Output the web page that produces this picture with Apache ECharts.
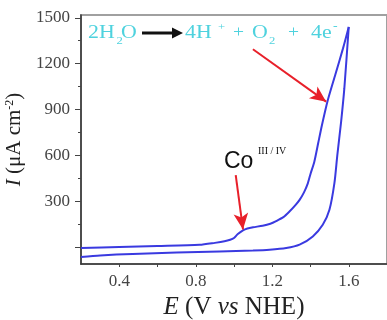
<!DOCTYPE html>
<html>
<head>
<meta charset="utf-8">
<script src="https://cdn.jsdelivr.net/npm/echarts@6/dist/echarts.min.js"></script>
<style>
  html, body { margin: 0; padding: 0; background: #fff; }
  #chart { width: 387px; height: 320px; }
</style>
</head>
<body>
<div id="chart"></div>
<script>
// anodic (forward) scan, E in V vs NHE, I in uA cm-2
const fwdE = [0.2, 0.4, 0.6, 0.82, 0.9, 0.95, 0.98, 1.0, 1.02, 1.047, 1.07, 1.1, 1.15, 1.19, 1.22, 1.26, 1.29, 1.32, 1.343, 1.366, 1.386, 1.40, 1.42, 1.44, 1.46, 1.49, 1.53, 1.57, 1.6];
const fwdI = [-3, 3, 9, 17, 30, 40, 50, 62, 88, 112, 124, 132, 142, 155, 172, 200, 235, 275, 311, 360, 419, 480, 560, 680, 800, 960, 1130, 1300, 1440];
// reverse scan
const revE = [1.6, 1.577, 1.56, 1.54, 1.525, 1.499, 1.464, 1.412, 1.343, 1.273, 1.186, 1.099, 0.925, 0.7, 0.47, 0.3, 0.2];
const revI = [1440, 1040, 820, 600, 420, 246, 148, 72, 18, -4, -15, -20, -26, -33, -42, -52, -62];

const xLabels = [0.4, 0.8, 1.2, 1.6];
const xTicks = [0.4, 0.6, 0.8, 1.0, 1.2, 1.4, 1.6];
const yLabels = [300, 600, 900, 1200, 1500];
const yTicks = [0, 300, 600, 900, 1200, 1500];
const yMinor = [150, 450, 750, 1050, 1350];

// red annotation arrows [start, tip] in data units
const arrowCo = [[1.009, 473], [1.047, 118]];
const arrowOer = [[1.099, 1294], [1.482, 952]];

const serif = 'Liberation Serif';
const cyan = '#4ed2de';

// pieces of the reaction label: [text, x, centre y, font size]
const eqPieces = [
  ['2H', 88, 33, 19], ['2', 116.5, 41, 11], ['O', 121, 33, 19],
  ['4H', 185, 33, 19], ['+', 218, 27, 11], ['+', 233, 33, 17],
  ['O', 252, 33, 19], ['2', 269, 41, 11], ['+', 288, 33, 17],
  ['4e', 311, 33, 19], ['-', 333, 27, 12]
];

const chart = echarts.init(document.getElementById('chart'));
const toPts = (xs, ys) => xs.map((x, i) => [x, ys[i]]);

const graphics = eqPieces.map(p => ({
  type: 'text', x: p[1], y: p[2], scaleX: 1.15,
  style: { text: p[0], fontFamily: serif, fontSize: p[3], fill: cyan, verticalAlign: 'middle' }
}));
graphics.push(
  { type: 'line', shape: { x1: 142, y1: 33, x2: 174, y2: 33 }, style: { stroke: '#111', lineWidth: 3 } },
  { type: 'polygon', shape: { points: [[172, 27.5], [183, 33], [172, 38.5]] }, style: { fill: '#111' } },
  { type: 'text', x: 224, y: 162, style: { text: 'Co', fontFamily: 'Liberation Sans', fontSize: 23, fill: '#111', verticalAlign: 'middle' } },
  { type: 'text', x: 258, y: 151, style: { text: 'III / IV', fontFamily: serif, fontSize: 10, fill: '#111', verticalAlign: 'middle' } }
);

chart.setOption({
  animation: false,
  grid: {
    left: 81, right: 0, top: 15, bottom: 56,
    outerBoundsMode: 'none', containLabel: false,
    show: true, borderColor: '#a0a0a0', borderWidth: 2, backgroundColor: 'transparent'
  },
  xAxis: {
    type: 'value', min: 0.2, max: 1.8,
    name: '{i|E} (V {i|vs} NHE)',
    nameLocation: 'middle', nameGap: 27,
    nameTextStyle: {
      fontFamily: serif, fontSize: 25, color: '#222',
      rich: { i: { fontFamily: serif, fontSize: 25, fontStyle: 'italic', color: '#222' } }
    },
    axisLine: { onZero: false, lineStyle: { color: '#333', width: 1.5 } },
    axisTick: { customValues: xTicks, length: 3, lineStyle: { color: '#444' } },
    axisLabel: { customValues: xLabels, margin: 9, fontFamily: serif, fontSize: 17, color: '#444',
      formatter: v => v.toFixed(1) },
    splitLine: { show: false }
  },
  yAxis: [
    {
      type: 'value', min: -108, max: 1518,
      name: '{i|I} (μA cm{s|-2})',
      nameLocation: 'middle', nameGap: 44,
      nameTextStyle: {
        fontFamily: serif, fontSize: 21, color: '#222',
        rich: {
          i: { fontFamily: serif, fontSize: 21, fontStyle: 'italic', color: '#222' },
          s: { fontFamily: serif, fontSize: 12, verticalAlign: 'top', color: '#222' }
        }
      },
      axisLine: { show: true, onZero: false, lineStyle: { color: '#333', width: 1.5 } },
      axisTick: { customValues: yTicks, length: 6, lineStyle: { color: '#444' } },
      axisLabel: { customValues: yLabels, margin: 11, fontFamily: serif, fontSize: 17, color: '#444',
        formatter: v => String(v) },
      splitLine: { show: false }
    },
    {
      type: 'value', min: -108, max: 1518, position: 'left',
      axisLine: { show: false },
      axisTick: { show: true, customValues: yMinor, length: 3, lineStyle: { color: '#444' } },
      axisLabel: { show: false },
      splitLine: { show: false }
    }
  ],
  series: [
    {
      type: 'line', data: toPts(fwdE, fwdI), showSymbol: false, smooth: 0.25,
      lineStyle: { color: '#3a3ae0', width: 2 },
      markLine: {
        silent: true, symbol: ['none', 'arrow'], symbolSize: [11, 16],
        lineStyle: { color: '#e8202a', width: 2, type: 'solid' },
        label: { show: false },
        data: [
          [{ coord: arrowCo[0] }, { coord: arrowCo[1] }],
          [{ coord: arrowOer[0] }, { coord: arrowOer[1] }]
        ]
      }
    },
    {
      type: 'line', data: toPts(revE, revI), showSymbol: false, smooth: 0.25,
      lineStyle: { color: '#3a3ae0', width: 2 }
    }
  ],
  graphic: graphics
});
</script>
</body>
</html>
